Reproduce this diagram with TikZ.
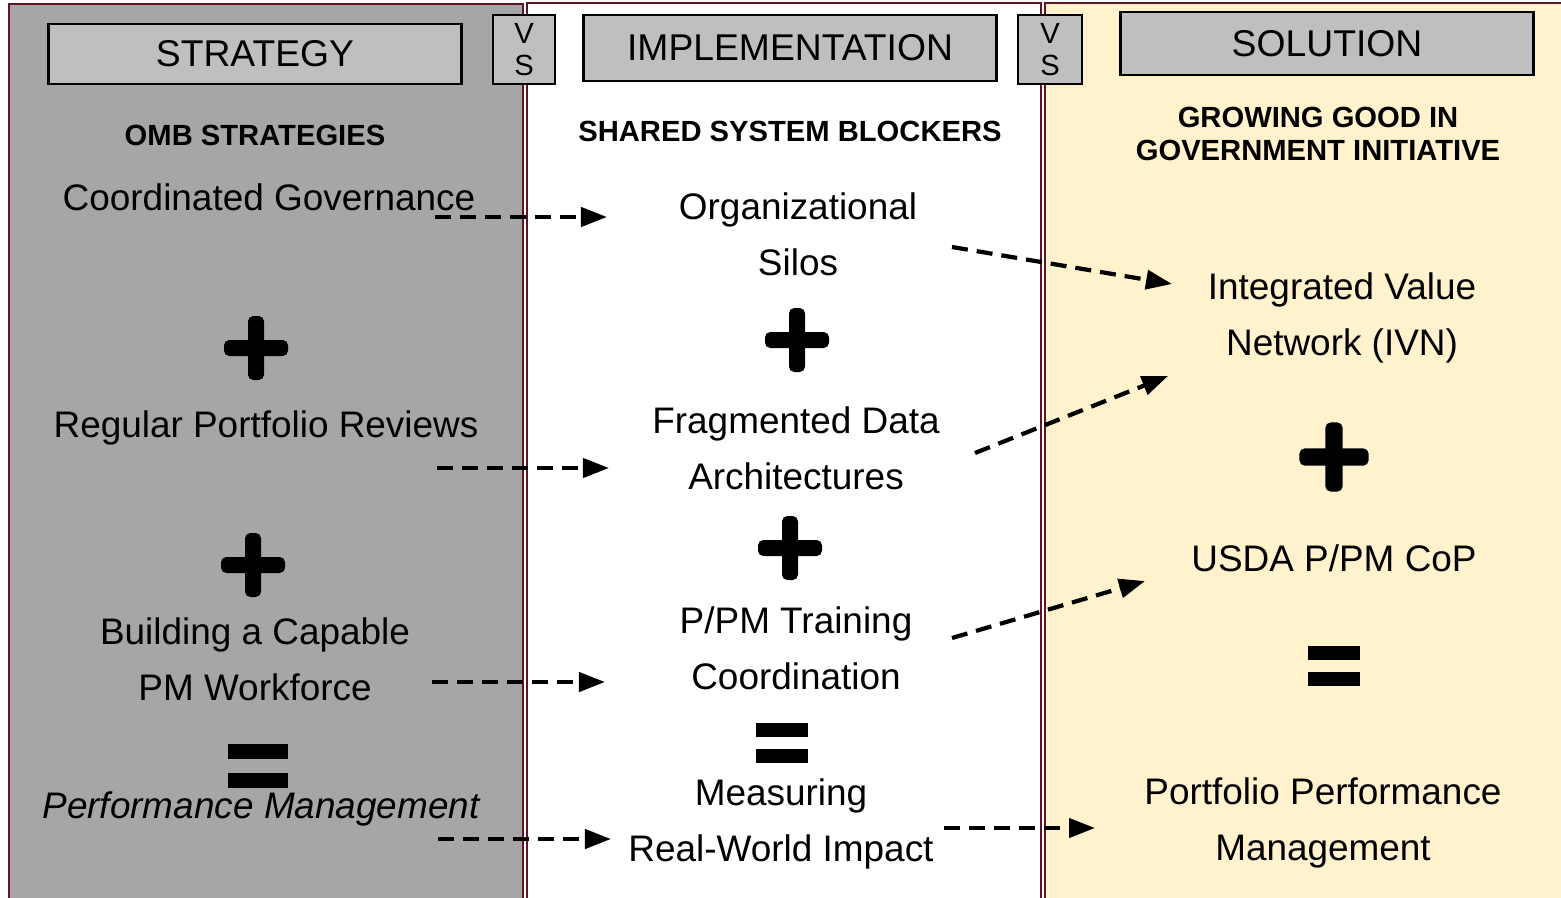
\documentclass[tikz,border=0pt]{standalone}
\usepackage{fontspec}
\setmainfont{Liberation Sans}
\usetikzlibrary{arrows.meta}

\definecolor{panelgray}{HTML}{A6A6A6}
\definecolor{headgray}{HTML}{BFBFBF}
\definecolor{solyellow}{HTML}{FFF2CC}
\definecolor{maroon}{HTML}{5E1423}

\begin{document}
\begin{tikzpicture}[x=0.01cm, y=-0.01cm,
    panel/.style={draw=maroon, line width=0.6pt},
    headbox/.style={draw=black, fill=headgray, line width=0.8pt, inner sep=0pt,
      font=\fontsize{10.6}{12}\selectfont},
    vsbox/.style={draw=black, fill=headgray, line width=0.8pt, inner sep=0pt,
      align=center, minimum width=0.62cm, minimum height=0.69cm,
      font=\fontsize{8.3}{9}\selectfont},
    sub/.style={font=\bfseries\fontsize{8.3}{9.4}\selectfont, align=center},
    txt/.style={font=\fontsize{10.5}{15.9}\selectfont, align=center, inner sep=0pt},
    flow/.style={line width=1.2pt, dash pattern=on 0.16cm off 0.09cm,
      -{Triangle[length=0.26cm,width=0.19cm]}},
    plus/.pic={
      \fill[rounded corners=1.5pt] (-32,-8) rectangle (32,8);
      \fill[rounded corners=1.5pt] (-8,-32) rectangle (8,32);
    },
    equal/.pic={
      \fill (-26,-20) rectangle (26,-6);
      \fill (-26,6) rectangle (26,20);
    }]

    \useasboundingbox (0,0) rectangle (1561,897);
    \clip (0,0) rectangle (1561,897);

    % Draw the three panels
    \fill[white] (0,0) rectangle (1561,897);
    \draw[panel, fill=panelgray] (9,4) rectangle (523,920);
    \draw[panel, fill=white] (527,3) rectangle (1041,920);
    \draw[panel, fill=solyellow] (1045,3) rectangle (1580,920);

    % Header boxes
    \node[headbox, minimum width=4.12cm, minimum height=0.6cm] (strategy) at (255,54) {STRATEGY};
    \node[vsbox] (vs1) at (524,49.5) {V\\S};
    \node[headbox, minimum width=4.12cm, minimum height=0.66cm] (impl) at (790,48) {IMPLEMENTATION};
    \node[vsbox, minimum width=0.64cm] (vs2) at (1050,49.5) {V\\S};
    \node[headbox, minimum width=4.12cm, minimum height=0.63cm] (solution) at (1327,43.5) {SOLUTION};

    % Column titles
    \node[sub] (omb) at (255,135) {OMB STRATEGIES};
    \node[sub] (blockers) at (790,131) {SHARED SYSTEM BLOCKERS};
    \node[sub] (ggg) at (1318,134) {GROWING GOOD IN\\GOVERNMENT INITIATIVE};

    % Strategy column
    \node[txt] (gov) at (269,197) {Coordinated Governance};
    \pic at (256,348) {plus};
    \node[txt] (reviews) at (266,428) {Regular Portfolio Reviews};
    \pic at (253,565) {plus};
    \node[txt] (workforce) at (255,659) {Building a Capable\\PM Workforce};
    \pic[xscale=1.15, yscale=1.1] at (258,766) {equal};
    \node[txt, font=\itshape\fontsize{10.5}{15.9}\selectfont] (perf) at (261,809) {Performance Management};

    % Implementation column
    \node[txt] (silos) at (798,234) {Organizational\\Silos};
    \pic at (797,340) {plus};
    \node[txt] (data) at (796,448) {Fragmented Data\\Architectures};
    \pic at (790,548) {plus};
    \node[txt] (training) at (796,648) {P/PM Training\\Coordination};
    \pic at (782,743) {equal};
    \node[txt] (impact) at (781,824) {Measuring\\Real-World Impact};

    % Solution column
    \node[txt] (ivn) at (1342,318) {Integrated Value\\Network (IVN)};
    \pic[scale=1.08] at (1334,457) {plus};
    \node[txt] (cop) at (1334,558) {USDA P/PM CoP};
    \pic at (1334,666) {equal};
    \node[txt] (ppm) at (1323,823) {Portfolio Performance\\Management};

    % Arrow end points
    \coordinate (a1) at (435,217);  \coordinate (b1) at (607,217);
    \coordinate (a2) at (437,468);  \coordinate (b2) at (609,468);
    \coordinate (a3) at (432,682);  \coordinate (b3) at (605,682);
    \coordinate (a4) at (438,839);  \coordinate (b4) at (611,839);
    \coordinate (c1) at (952,247);  \coordinate (d1) at (1172,284);
    \coordinate (c2) at (975,453);  \coordinate (d2) at (1168,376);
    \coordinate (c3) at (952,638);  \coordinate (d3) at (1145,581);
    \coordinate (c4) at (944,828);  \coordinate (d4) at (1095,828);

    % Dashed arrows
    \draw[flow] (a1) -- (b1);
    \draw[flow] (a2) -- (b2);
    \draw[flow] (a3) -- (b3);
    \draw[flow] (a4) -- (b4);
    \draw[flow] (c1) -- (d1);
    \draw[flow] (c2) -- (d2);
    \draw[flow] (c3) -- (d3);
    \draw[flow] (c4) -- (d4);
\end{tikzpicture}
\end{document}
